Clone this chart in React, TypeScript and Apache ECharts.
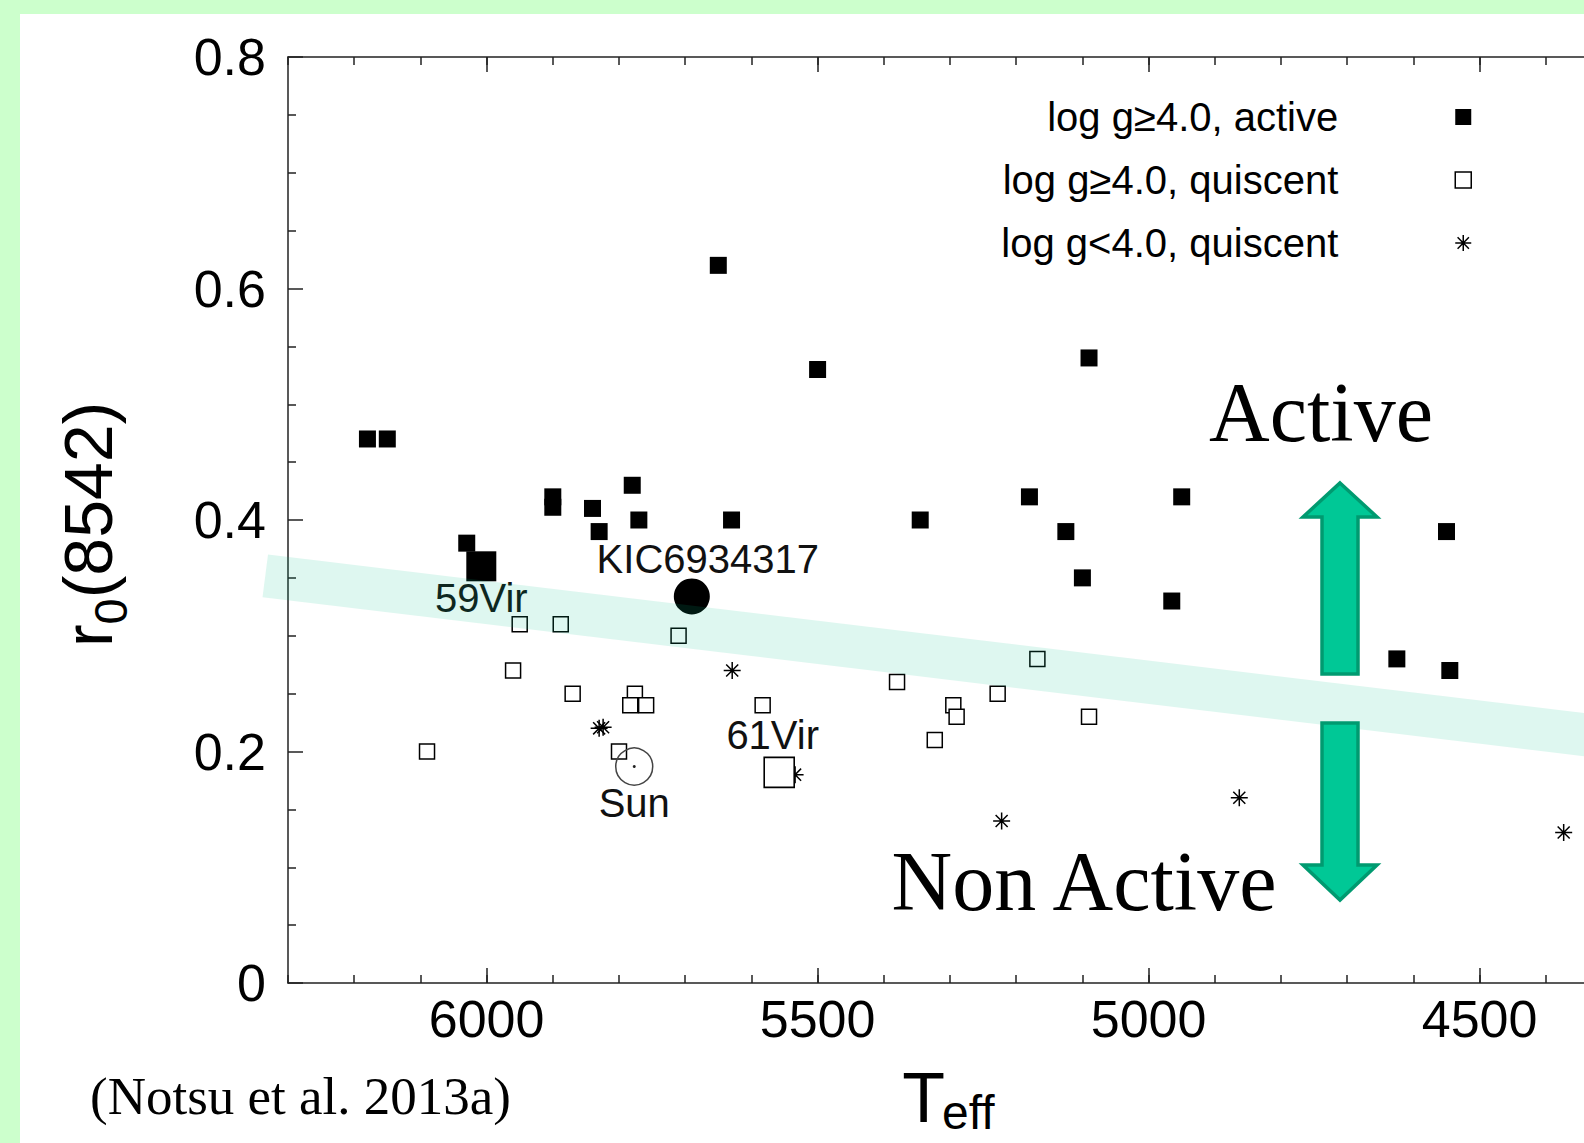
import React, { useEffect, useRef } from 'react';
import * as echarts from 'echarts';

// ---- data (Teff [K], r0(8542)) ----
const activeStars: number[][] = [
  [6180, 0.47], [6150, 0.47], [6030, 0.38], [5900, 0.42], [5900, 0.411],
  [5840, 0.41], [5830, 0.39], [5780, 0.43], [5770, 0.40], [5650, 0.62],
  [5630, 0.40], [5500, 0.53], [5345, 0.40], [5180, 0.42], [5125, 0.39],
  [5100, 0.35], [5090, 0.54], [4950, 0.42], [4965, 0.33], [4550, 0.39],
  [4625, 0.28], [4545, 0.27],
];
const quiescentStars: number[][] = [
  [5950, 0.31], [5888, 0.31], [5710, 0.30], [5960, 0.27], [5870, 0.25],
  [5776, 0.25], [5783, 0.24], [5759, 0.24], [5800, 0.20], [6090, 0.20],
  [5583, 0.24], [5380, 0.26], [5295, 0.24], [5290, 0.23], [5228, 0.25],
  [5323, 0.21], [5168, 0.28], [5090, 0.23],
];
const giantStars: number[][] = [
  [5629, 0.27], [5830, 0.22], [5824, 0.221], [5534, 0.18], [5222, 0.14],
  [4863, 0.16], [4373, 0.13],
];
const kicStar: number[][] = [[5690, 0.334]];
const vir59Star: number[][] = [[6008, 0.36]];
const vir61Star: number[][] = [[5558, 0.182]];
const sunStar: number[][] = [[5777, 0.187]];

const legendNames = ['log g≥4.0, active', 'log g≥4.0, quiscent', 'log g<4.0, quiscent'];
const xMajorTicks = [4500, 5000, 5500, 6000];
const xRange = [4300, 6300];
const yRange = [0, 0.8];

const SANS = '"Liberation Sans", Arial, Helvetica, sans-serif';
const SERIF = '"Liberation Serif", "Times New Roman", serif';
const AST = 'path://M8 0 L8 16 M0 8 L16 8 M2.34 2.34 L13.66 13.66 M2.34 13.66 L13.66 2.34';
const AXIS_COLOR = '#222';

export default function App() {
  const ref = useRef<HTMLDivElement>(null);

  useEffect(() => {
    if (!ref.current) return;
    const chart = echarts.init(ref.current, undefined, { renderer: 'svg' });
    const lineStyle = { color: AXIS_COLOR, width: 1.5 };
    const xBase = {
      type: 'value' as const,
      min: xRange[0],
      max: xRange[1],
      inverse: true,
      interval: 100,
      splitLine: { show: false },
    };
    const labelBase = {
      show: true,
      fontSize: 40,
      lineHeight: 40,
      fontFamily: SANS,
      color: '#111',
      opacity: 1,
    };
    const option: any = {
      animation: false,
      textStyle: { fontFamily: SANS },
      grid: {
        left: 288, top: 57, right: -28, bottom: 160,
        containLabel: false, outerBoundsMode: 'none',
      },
      xAxis: [
        {
          ...xBase, position: 'bottom',
          axisLine: { show: true, onZero: false, lineStyle },
          axisTick: { show: true, inside: true, length: 8, lineStyle },
          axisLabel: {
            show: true, fontSize: 52, margin: 10, color: '#000', fontFamily: SANS,
            formatter: (v: number) => (xMajorTicks.indexOf(v) >= 0 ? String(v) : ''),
          },
        },
        {
          ...xBase, position: 'bottom',
          axisLine: { show: false, onZero: false },
          axisTick: { show: true, inside: true, length: 15, lineStyle, customValues: xMajorTicks },
          axisLabel: { show: false },
        },
        {
          ...xBase, position: 'top',
          axisLine: { show: true, onZero: false, lineStyle },
          axisTick: { show: true, inside: true, length: 8, lineStyle },
          axisLabel: { show: false },
        },
        {
          ...xBase, position: 'top',
          axisLine: { show: false, onZero: false },
          axisTick: { show: true, inside: true, length: 15, lineStyle, customValues: xMajorTicks },
          axisLabel: { show: false },
        },
      ],
      yAxis: [
        {
          type: 'value', min: yRange[0], max: yRange[1], interval: 0.2, position: 'left',
          axisLine: { show: true, onZero: false, lineStyle },
          axisTick: { show: true, inside: true, length: 15, lineStyle },
          minorTick: { show: true, splitNumber: 4, length: 8, lineStyle },
          splitLine: { show: false },
          minorSplitLine: { show: false },
          axisLabel: {
            fontSize: 52, margin: 22, color: '#000', fontFamily: SANS,
            formatter: (v: number) => (v === 0 ? '0' : v.toFixed(1)),
          },
        },
      ],
      legend: {
        orient: 'vertical', right: 112, top: 97, align: 'right', padding: 0,
        itemGap: 23, itemWidth: 16, itemHeight: 16, selectedMode: false,
        textStyle: { fontSize: 40, lineHeight: 40, fontFamily: SANS, color: '#000', padding: [0, 112, 0, 0] },
        data: [
          { name: legendNames[0], icon: 'rect', itemStyle: { color: '#000', borderWidth: 0, opacity: 1 } },
          { name: legendNames[1], icon: 'rect', itemStyle: { color: '#fff', borderColor: '#000', borderWidth: 1.5, opacity: 1 } },
          { name: legendNames[2], icon: AST, itemStyle: { color: 'transparent', borderColor: '#000', borderWidth: 1.5, opacity: 1 } },
        ],
      },
      series: [
        {
          type: 'scatter', name: legendNames[0], data: activeStars, symbol: 'rect', symbolSize: 17,
          itemStyle: { color: '#000', opacity: 1 }, z: 3, silent: true,
        },
        {
          type: 'scatter', name: legendNames[1], data: quiescentStars, symbol: 'rect', symbolSize: 15,
          itemStyle: { color: '#fff', borderColor: '#000', borderWidth: 1.5, opacity: 1 }, z: 4, silent: true,
        },
        {
          type: 'scatter', name: legendNames[2], data: giantStars, symbol: AST, symbolSize: 17,
          itemStyle: { color: 'transparent', borderColor: '#000', borderWidth: 1.5, opacity: 1 }, z: 3, silent: true,
        },
        {
          type: 'scatter', name: '59Vir', data: vir59Star, symbol: 'rect', symbolSize: 30,
          itemStyle: { color: '#000', opacity: 1 }, z: 5, silent: true,
          label: { ...labelBase, formatter: '59Vir', position: 'bottom', distance: -3 },
        },
        {
          type: 'scatter', name: 'KIC6934317', data: kicStar, symbol: 'circle', symbolSize: 36,
          itemStyle: { color: '#000', opacity: 1 }, z: 5, silent: true,
          label: { ...labelBase, formatter: 'KIC6934317', position: 'top', distance: -1, offset: [16, 0] },
        },
        {
          type: 'scatter', name: '61Vir', data: vir61Star, symbol: 'rect', symbolSize: 30,
          itemStyle: { color: '#fff', borderColor: '#000', borderWidth: 1.6, opacity: 1 }, z: 5, silent: true,
          label: { ...labelBase, formatter: '61Vir', position: 'top', distance: 1.5, offset: [-6.5, 0] },
        },
        {
          type: 'scatter', name: 'Sun', data: sunStar, symbol: 'circle', symbolSize: 37,
          itemStyle: { color: 'transparent', borderColor: '#444', borderWidth: 1.5, opacity: 1 }, z: 6, silent: true,
          label: { ...labelBase, formatter: 'Sun', position: 'bottom', distance: -2.5 },
        },
        {
          type: 'scatter', name: 'SunCentre', data: sunStar, symbol: 'circle', symbolSize: 3,
          itemStyle: { color: '#222', opacity: 1 }, z: 6, silent: true,
        },
      ],
      graphic: [
        {
          type: 'polygon', z: 50, silent: true,
          shape: { points: [[268, 554.6], [1620, 717.3], [1620, 760.6], [262.5, 597.2]] },
          style: { fill: 'rgba(0, 190, 140, 0.13)' },
        },
        {
          type: 'polygon', z: 60, silent: true,
          shape: { points: [[1340, 483], [1377, 517], [1358, 517], [1358, 674], [1322, 674], [1322, 517], [1303, 517]] },
          style: { fill: '#00c896', stroke: '#009a70', lineWidth: 3.5, lineJoin: 'miter' },
        },
        {
          type: 'polygon', z: 60, silent: true,
          shape: { points: [[1322, 723], [1358, 723], [1358, 865], [1377, 865], [1340, 900], [1303, 865], [1322, 865]] },
          style: { fill: '#00c896', stroke: '#009a70', lineWidth: 3.5, lineJoin: 'miter' },
        },
        {
          type: 'text', z: 60, silent: true, x: 1321, y: 412,
          style: { text: 'Active', fontSize: 84, fontFamily: SERIF, fill: '#000', align: 'center', verticalAlign: 'middle' },
        },
        {
          type: 'text', z: 60, silent: true, x: 1084, y: 881,
          style: { text: 'Non Active', fontSize: 84, fontFamily: SERIF, fill: '#000', align: 'center', verticalAlign: 'middle' },
        },
        {
          type: 'text', z: 60, silent: true, x: 300.5, y: 1096,
          style: { text: '(Notsu et al. 2013a)', fontSize: 53, fontFamily: SERIF, fill: '#000', align: 'center', verticalAlign: 'middle' },
        },
        // y-axis title r0(8542), rotated, with subscript 0
        {
          type: 'text', z: 60, silent: true, x: 87.5, y: 647, rotation: Math.PI / 2,
          style: { text: 'r', fontSize: 68, fontFamily: SANS, fill: '#000', align: 'left', verticalAlign: 'middle' },
        },
        {
          type: 'text', z: 60, silent: true, x: 110, y: 624.4, rotation: Math.PI / 2,
          style: { text: '0', fontSize: 47, fontFamily: SANS, fill: '#000', align: 'left', verticalAlign: 'middle' },
        },
        {
          type: 'text', z: 60, silent: true, x: 87.5, y: 598.3, rotation: Math.PI / 2,
          style: { text: '(8542)', fontSize: 68, fontFamily: SANS, fill: '#000', align: 'left', verticalAlign: 'middle' },
        },
        // x-axis title T_eff
        {
          type: 'text', z: 60, silent: true, x: 923.5, y: 1098,
          style: { text: 'T', fontSize: 70, fontFamily: SANS, fill: '#000', align: 'center', verticalAlign: 'middle' },
        },
        {
          type: 'text', z: 60, silent: true, x: 942, y: 1112,
          style: { text: 'eff', fontSize: 48, fontFamily: SANS, fill: '#000', align: 'left', verticalAlign: 'middle' },
        },
      ],
    };
    chart.setOption(option);
    return () => chart.dispose();
  }, []);

  return (
    <div style={{ position: 'absolute', left: 0, top: 0, width: 1584, height: 1143, background: '#ccffcc', overflow: 'hidden' }}>
      <div style={{ position: 'absolute', left: 20, top: 14, width: 1564, height: 1129, background: '#ffffff' }} />
      <div ref={ref} style={{ position: 'absolute', left: 0, top: 0, width: 1584, height: 1143 }} />
    </div>
  );
}
